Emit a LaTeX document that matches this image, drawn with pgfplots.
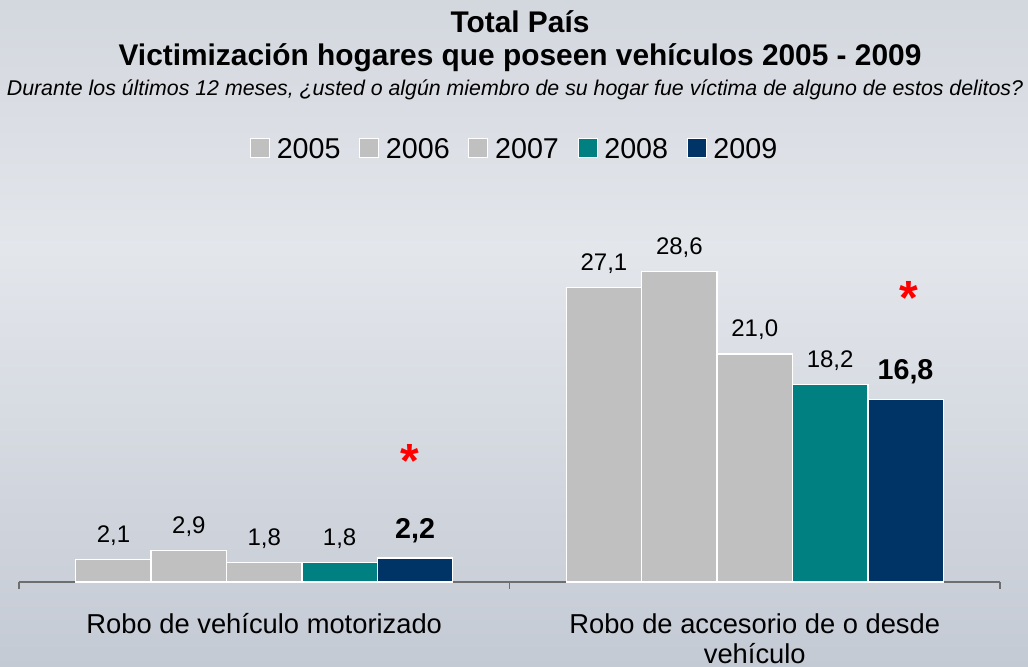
\documentclass[border=0pt]{standalone}
\usepackage{pgfplots}
\pgfplotsset{compat=1.18}
\usepackage{fontspec}
\setmainfont{Liberation Sans}
\usetikzlibrary{shadings}

% 1 px of the reference = 0.75pt
\definecolor{barGray}{HTML}{C0C0C0}
\definecolor{barTeal}{HTML}{008080}
\definecolor{barNavy}{HTML}{003366}
\definecolor{axGray}{HTML}{6E6E6E}
\definecolor{bgTop}{HTML}{D3D7DE}
\definecolor{bgMid}{HTML}{E3E6EB}
\definecolor{bgLow}{HTML}{C4CAD4}

\pgfplotstableread{
x y05 y06 y07 y08 y09
0 2.1 2.9 1.8 1.8 2.2
1 27.1 28.6 21.0 18.2 16.8
}\victdata

\begin{document}
\begin{tikzpicture}
% background
\shade[top color=bgTop, bottom color=bgMid] (-14.25pt,250pt) rectangle (756.75pt,436.5pt);
\shade[top color=bgMid, bottom color=bgLow] (-14.25pt,-63.75pt) rectangle (756.75pt,250pt);

% titles
\node[anchor=base, font=\bfseries\fontsize{22.4}{22.4}\selectfont] at (375.75pt,411.75pt) {Total País};
\node[anchor=base, font=\bfseries\fontsize{22.4}{22.4}\selectfont] at (375.75pt,387pt) {Victimización hogares que poseen vehículos 2005 - 2009};
\node[anchor=base, font=\itshape\fontsize{16}{16}\selectfont] at (372pt,365pt) {Durante los últimos 12 meses, ¿usted o algún miembro de su hogar fue víctima de alguno de estos delitos?};

\begin{axis}[
  at={(0pt,0pt)}, anchor=south west,
  scale only axis,
  width=735.75pt, height=285pt,
  xmin=-0.5, xmax=1.5, ymin=0, ymax=35,
  axis y line=none,
  axis x line*=bottom,
  x axis line style={-, draw=axGray, line width=1.3pt},
  ybar, bar width=0.1537,
  xtick={0,1},
  xticklabels={\strut Robo de vehículo motorizado, {\strut Robo de accesorio de o desde\\vehículo}},
  major tick length=0pt,
  xticklabel style={font=\fontsize{20.5}{22.5}\selectfont, align=center, anchor=north, inner sep=0pt, yshift=-22.5pt},
  extra x ticks={-0.5,0.5,1.5},
  extra x tick labels={},
  extra x tick style={major tick length=5pt, tick align=outside, tick style={draw=axGray, line width=1pt}},
  /pgf/number format/.cd, use comma, fixed, fixed zerofill, precision=1, assume math mode=true,
  /pgfplots/.cd,
  nodes near coords,
  every node near coord/.append style={font=\fontsize{18}{18}\selectfont, anchor=base, yshift=12.75pt, text=black},
  legend columns=5,
  legend style={at={(0.5056,1.137)}, anchor=center, draw=none, fill=none,
    font=\fontsize{21.5}{21.5}\selectfont,
    /tikz/every odd column/.append style={column sep=3pt},
    /tikz/every even column/.append style={column sep=12pt}},
  legend image code/.code={\draw[#1, draw=white, line width=0.8pt] (0pt,-5.5pt) rectangle (14.25pt,8.75pt);},
  clip=false,
]
\addplot[fill=barGray, draw=white, line width=1pt, bar shift=-0.3074] table[x=x, y=y05] {\victdata};
\addplot[fill=barGray, draw=white, line width=1pt, bar shift=-0.1537] table[x=x, y=y06] {\victdata};
\addplot[fill=barGray, draw=white, line width=1pt, bar shift=0] table[x=x, y=y07] {\victdata};
\addplot[fill=barTeal, draw=white, line width=1pt, bar shift=0.1537] table[x=x, y=y08] {\victdata};
\addplot[fill=barNavy, draw=white, line width=1pt, bar shift=0.3074,
  every node near coord/.append style={font=\bfseries\fontsize{21.5}{21.5}\selectfont, yshift=2pt}] table[x=x, y=y09] {\victdata};
\legend{2005, 2006, 2007, 2008, 2009}
\node[text=red, font=\bfseries\fontsize{36}{36}\selectfont, anchor=center] at (axis cs:0.297,11.1) {*};
\node[text=red, font=\bfseries\fontsize{36}{36}\selectfont, anchor=center] at (axis cs:1.314,26.2) {*};
\end{axis}
\end{tikzpicture}
\end{document}
